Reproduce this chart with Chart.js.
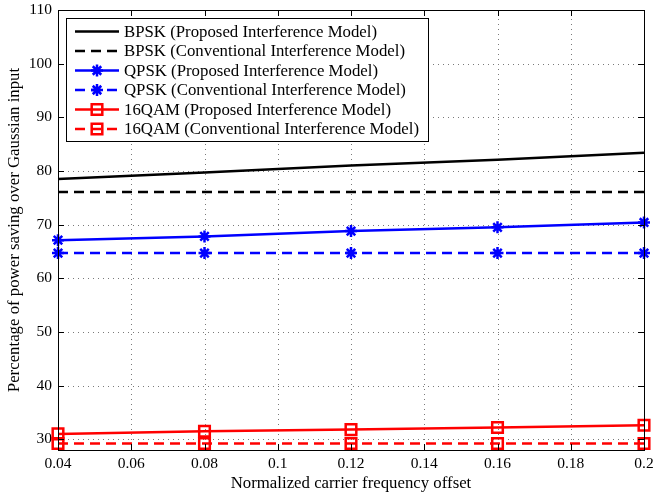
<!DOCTYPE html>
<html><head><meta charset="utf-8">
<script src="https://cdn.jsdelivr.net/npm/chart.js@4/dist/chart.umd.min.js"></script>
<style>html,body{margin:0;padding:0;background:#fff}canvas{display:block}</style>
</head><body>
<canvas id="c" width="654" height="496"></canvas>
<script>
const offsets = [0.04, 0.08, 0.12, 0.16, 0.2];
const bpskProposed = [78.5, 79.7, 81.0, 82.1, 83.4];
const bpskConventional = [76.1, 76.1, 76.1, 76.1, 76.1];
const qpskProposed = [67.1, 67.8, 68.8, 69.5, 70.4];
const qpskConventional = [64.7, 64.7, 64.7, 64.7, 64.7];
const qamProposed = [31.0, 31.5, 31.8, 32.2, 32.6];
const qamConventional = [29.2, 29.2, 29.2, 29.2, 29.2];
const seriesLabels = [
  'BPSK (Proposed Interference Model)',
  'BPSK (Conventional Interference Model)',
  'QPSK (Proposed Interference Model)',
  'QPSK (Conventional Interference Model)',
  '16QAM (Proposed Interference Model)',
  '16QAM (Conventional Interference Model)'
];
const xTickValues = [0.04, 0.06, 0.08, 0.1, 0.12, 0.14, 0.16, 0.18, 0.2];
const xTickLabels = ['0.04', '0.06', '0.08', '0.1', '0.12', '0.14', '0.16', '0.18', '0.2'];
const yTickValues = [30, 40, 50, 60, 70, 80, 90, 100, 110];
const xTitle = 'Normalized carrier frequency offset';
const yTitle = 'Percentage of power saving over Gaussian input';

const FONT = "'Liberation Serif', serif";
const TEXT_SIZE = 16.8;
const TICK_SIZE = 15.5;
const DASH = [10, 6];

function pts(arr) { return offsets.map((x, i) => ({ x: x, y: arr[i] })); }

function ds(label, data, color, dashed, style) {
  return {
    label: label, data: pts(data), borderColor: color, backgroundColor: color,
    borderWidth: 2.5, borderDash: dashed ? DASH : [],
    pointStyle: style || 'circle',
    pointRadius: style ? (style === 'rect' ? 7.5 : 6) : 0,
    pointHoverRadius: style ? 6 : 0,
    pointBorderWidth: 2.5, pointBorderColor: color,
    pointBackgroundColor: 'rgba(0,0,0,0)',
    tension: 0, clip: false, fill: false
  };
}

const datasets = [
  ds(seriesLabels[0], bpskProposed, '#000000', false, null),
  ds(seriesLabels[1], bpskConventional, '#000000', true, null),
  ds(seriesLabels[2], qpskProposed, '#0000ff', false, 'star'),
  ds(seriesLabels[3], qpskConventional, '#0000ff', true, 'star'),
  ds(seriesLabels[4], qamProposed, '#ff0000', false, 'rect'),
  ds(seriesLabels[5], qamConventional, '#ff0000', true, 'rect')
];

const gridPlugin = {
  id: 'dotgrid',
  beforeDatasetsDraw(chart) {
    const ctx = chart.ctx, a = chart.chartArea;
    const xs = chart.scales.x, ys = chart.scales.y;
    ctx.save();
    ctx.strokeStyle = '#7a7a7a'; ctx.lineWidth = 1; ctx.setLineDash([1, 4]);
    ctx.beginPath();
    xTickValues.forEach(v => {
      const px = Math.round(xs.getPixelForValue(v)) + 0.5;
      ctx.moveTo(px, a.bottom); ctx.lineTo(px, a.top);
    });
    yTickValues.forEach(v => {
      const py = Math.round(ys.getPixelForValue(v)) + 0.5;
      ctx.moveTo(a.left, py); ctx.lineTo(a.right, py);
    });
    ctx.stroke();
    ctx.restore();
  }
};

const framePlugin = {
  id: 'frame',
  afterDatasetsDraw(chart) {
    const ctx = chart.ctx, a = chart.chartArea;
    const xs = chart.scales.x, ys = chart.scales.y;
    ctx.save();
    ctx.strokeStyle = '#000'; ctx.lineWidth = 1; ctx.setLineDash([]);
    ctx.strokeRect(Math.round(a.left) + 0.5, Math.round(a.top) + 0.5, Math.round(a.right - a.left), Math.round(a.bottom - a.top));
    ctx.beginPath();
    xTickValues.forEach(v => {
      const px = Math.round(xs.getPixelForValue(v)) + 0.5;
      ctx.moveTo(px, a.bottom); ctx.lineTo(px, a.bottom - 6);
      ctx.moveTo(px, a.top); ctx.lineTo(px, a.top + 6);
    });
    yTickValues.forEach(v => {
      const py = Math.round(ys.getPixelForValue(v)) + 0.5;
      ctx.moveTo(a.left, py); ctx.lineTo(a.left + 6, py);
      ctx.moveTo(a.right, py); ctx.lineTo(a.right - 6, py);
    });
    ctx.stroke();
    // Legend
    const lx = 66, ly = 18, lw = 362, lh = 123;
    ctx.fillStyle = '#fff';
    ctx.fillRect(lx, ly, lw, lh);
    ctx.strokeRect(lx + 0.5, ly + 0.5, lw, lh);
    ctx.font = TEXT_SIZE + "px " + FONT;
    ctx.textBaseline = 'middle';
    chart.data.datasets.forEach((d, i) => {
      const y = ly + 13.5 + i * 19.5;
      ctx.strokeStyle = d.borderColor; ctx.lineWidth = d.borderWidth;
      ctx.setLineDash(d.borderDash);
      ctx.beginPath(); ctx.moveTo(75, y); ctx.lineTo(119, y); ctx.stroke();
      ctx.setLineDash([]);
      if (d.pointRadius > 0) {
        ctx.fillStyle = d.pointBackgroundColor;
        ctx.lineWidth = d.pointBorderWidth;
        Chart.helpers.drawPoint(ctx, { pointStyle: d.pointStyle, rotation: 0, radius: d.pointRadius, borderWidth: d.pointBorderWidth }, 97, y);
      }
      ctx.fillStyle = '#000';
      ctx.fillText(d.label, 124, y + 1);
    });
    ctx.restore();
  }
};

new Chart(document.getElementById('c'), {
  type: 'line',
  data: { datasets: datasets },
  options: {
    responsive: false, animation: false, devicePixelRatio: 1,
    layout: { padding: { left: 0, right: 7, top: 10, bottom: 0 } },
    plugins: { legend: { display: false }, tooltip: { enabled: false } },
    scales: {
      x: {
        type: 'linear', min: 0.04, max: 0.2,
        afterBuildTicks(s) { s.ticks = xTickValues.map(v => ({ value: v })); },
        afterFit(s) { s.height = 46; s.paddingLeft = 0; s.paddingRight = 0; },
        ticks: { callback: (v, i) => xTickLabels[i], color: '#000', font: { family: FONT, size: TICK_SIZE }, padding: 5, maxRotation: 0, autoSkip: false },
        grid: { display: false, drawTicks: false },
        border: { display: false },
        title: { display: true, text: xTitle, color: '#000', font: { family: FONT, size: TEXT_SIZE }, padding: { top: 0, bottom: 2 } }
      },
      y: {
        type: 'linear', min: 28, max: 110,
        afterBuildTicks(s) { s.ticks = yTickValues.map(v => ({ value: v })); },
        afterFit(s) { s.width = 58; s.paddingTop = 0; s.paddingBottom = 0; },
        ticks: { callback: v => String(v), color: '#000', font: { family: FONT, size: TICK_SIZE }, padding: 6 },
        grid: { display: false, drawTicks: false },
        border: { display: false },
        title: { display: true, text: yTitle, color: '#000', font: { family: FONT, size: TEXT_SIZE }, padding: { top: 5, bottom: 0 } }
      }
    }
  },
  plugins: [gridPlugin, framePlugin]
});
</script>
</body></html>
